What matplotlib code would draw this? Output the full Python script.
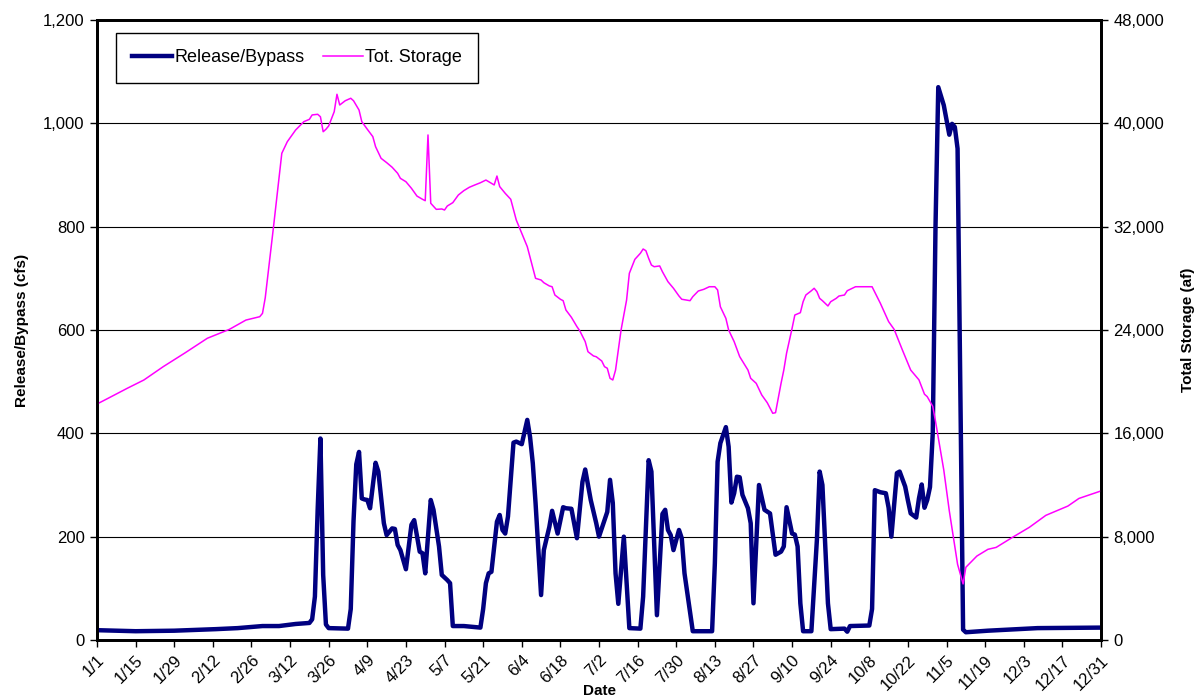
import matplotlib
matplotlib.use("Agg")
import matplotlib.pyplot as plt
from matplotlib.ticker import FuncFormatter

plt.rcParams['font.family'] = ['Liberation Sans', 'DejaVu Sans']

# day of year (0 = 1/1) and release/bypass in cfs
rel_day = [0, 14, 28, 43, 51, 60, 66, 72, 77, 78, 79, 80, 81, 82, 83, 84, 91, 92, 93, 94, 95,
           96, 97, 98, 99, 101, 102, 104, 105, 107, 108, 109, 110, 112, 114, 115, 117, 118, 119,
           121, 122, 124, 125, 127, 128, 129, 133, 137, 139, 140, 141, 142, 143, 145, 146, 147,
           148, 149, 151, 152, 154, 156, 157, 158, 159, 161, 162, 164, 165, 167, 169, 170, 172,
           174, 176, 177, 179, 181, 182, 184, 185, 186, 187, 188, 189, 191, 193, 197, 198, 200,
           201, 203, 205, 206, 207, 208, 209, 211, 212, 213, 216, 223, 224, 225, 226, 228, 229,
           230, 231, 232, 233, 234, 236, 237, 238, 240, 242, 244, 246, 248, 249, 250, 252, 253,
           254, 255, 256, 259, 261, 262, 263, 265, 266, 271, 272, 273, 280, 281, 282, 284, 286,
           287, 288, 290, 291, 293, 294, 295, 297, 298, 299, 300, 301, 302, 303, 304, 305, 307,
           308, 309, 310, 311, 312, 313, 314, 315, 323, 341, 364]
rel_cfs = [19, 17, 18, 21, 23, 27, 27, 31, 33, 40, 84, 252, 390, 126, 30, 23, 22, 60, 230, 340, 364,
           274, 272, 271, 255, 343, 326, 226, 203, 216, 215, 184, 174, 137, 223, 232, 171, 168, 129,
           271, 252, 181, 126, 116, 110, 27, 27, 25, 24, 60, 110, 129, 132, 229, 242, 213,
           206, 239, 382, 384, 379, 426, 393, 342, 265, 87, 174, 219, 250, 206, 257, 255, 254,
           197, 306, 330, 271, 226, 200, 232, 248, 310, 265, 129, 70, 200, 23, 22, 84, 348,
           326, 48, 244, 252, 213, 203, 174, 213, 197, 129, 17, 17, 148, 345, 381, 412, 374,
           266, 284, 316, 315, 281, 255, 226, 71, 300, 252, 245, 165, 171, 181, 257, 206, 204,
           181, 71, 17, 17, 194, 326, 300, 71, 21, 22, 16, 27, 28, 60, 290, 286, 284,
           256, 200, 323, 326, 297, 270, 245, 237, 274, 301, 256, 271, 296, 400, 800, 1070, 1035,
           1006, 978, 999, 993, 951, 480, 20, 15, 18, 23, 24]

# day of year and total storage in af
sto_day = [0, 4, 11, 17, 24, 32, 40, 48, 54, 59, 60, 61, 64, 67, 69, 72, 75, 77, 78, 80, 81, 82,
           83, 84, 86, 87, 88, 90, 92, 93, 95, 96, 98, 100, 101, 103, 105, 107, 109, 110, 112,
           114, 116, 118, 119, 120, 121, 123, 125, 126, 127, 129, 131, 133, 135, 137, 139, 141,
           142, 144, 145, 146, 148, 150, 152, 156, 159, 161, 162, 164, 165, 166, 168, 169, 170,
           172, 174, 175, 177, 178, 180, 181, 183, 184, 185, 186, 187, 188, 190, 192, 193, 195,
           197, 198, 199, 200, 201, 202, 204, 205, 207, 209, 211, 212, 215, 216, 218, 220, 222,
           224, 225, 226, 228, 229, 231, 233, 236, 237, 239, 241, 243, 245, 246, 248, 249, 250,
           252, 253, 255, 256, 257, 259, 260, 261, 262, 263, 265, 266, 268, 269, 271, 272, 275,
           281, 284, 287, 289, 292, 295, 298, 300, 301, 303, 304, 307, 309, 312, 314, 315, 319,
           323, 326, 332, 338, 344, 352, 356, 364]
sto_af = [18270, 18710, 19490, 20130, 21160, 22240, 23360, 24050, 24770, 25030, 25290, 26500,
          32000, 37680, 38580, 39480, 40130, 40310, 40650, 40700, 40510, 39350, 39540, 39800,
          40900, 42250, 41420, 41750, 41940, 41750, 41030, 40130, 39540, 38970, 38190, 37290,
          36960, 36600, 36130, 35740, 35480, 34970, 34370, 34120, 34010, 39100, 33810, 33340,
          33370, 33290, 33600, 33860, 34450, 34790, 35050, 35230, 35400, 35610, 35480, 35230,
          35920, 35100, 34580, 34120, 32520, 30450, 28000, 27870, 27660, 27410, 27350, 26710,
          26380, 26270, 25550, 24980, 24260, 23950, 23100, 22320, 21990, 21930, 21600, 21160,
          21040, 20260, 20130, 20900, 24000, 26320, 28390, 29470, 29940, 30270, 30140, 29550,
          29030, 28900, 28960, 28510, 27740, 27230, 26630, 26380, 26270, 26580, 27020, 27150,
          27350, 27350, 27100, 25800, 24900, 24000, 23100, 21940, 20900, 20260, 19870, 18970,
          18370, 17550, 17600, 19870, 20900, 22200, 24130, 25160, 25340, 26190, 26710, 27040,
          27230, 26970, 26450, 26270, 25860, 26190, 26450, 26630, 26710, 27040, 27350, 27350,
          26070, 24650, 24050, 22450, 20900, 20140, 19030, 18840, 18090, 16930, 13160, 10000,
          5860, 4340, 5630, 6500, 7020, 7170, 7960, 8720, 9650, 10370, 10960, 11540]

tick_days = list(range(0, 365, 14))
tick_labels = ['1/1', '1/15', '1/29', '2/12', '2/26', '3/12', '3/26', '4/9', '4/23', '5/7',
               '5/21', '6/4', '6/18', '7/2', '7/16', '7/30', '8/13', '8/27', '9/10', '9/24',
               '10/8', '10/22', '11/5', '11/19', '12/3', '12/17', '12/31']

fig = plt.figure(figsize=(11.98, 6.98), dpi=100)
ax = fig.add_axes([97 / 1198, 1 - 640 / 698, 1004 / 1198, 620 / 698])
ax2 = ax.twinx()

l1, = ax.plot(rel_day, rel_cfs, color='#000080', lw=3.2, label='Release/Bypass',
              solid_joinstyle='round', zorder=3)
l2, = ax2.plot(sto_day, sto_af, color='#FF00FF', lw=1.1, label='Tot. Storage')

ax.set_xlim(0, 364)
ax.set_ylim(0, 1200)
ax.set_yticks(range(0, 1201, 200))
ax2.set_ylim(0, 48000)
ax2.set_yticks(range(0, 48001, 8000))
comma = FuncFormatter(lambda v, p: f'{int(v):,}')
ax.yaxis.set_major_formatter(comma)
ax2.yaxis.set_major_formatter(comma)

ax.set_xticks(tick_days)
ax.set_xticklabels(tick_labels, rotation=45, ha='right', rotation_mode='anchor')
ax.yaxis.grid(True, color='black', lw=0.8)
ax.set_axisbelow(True)

for a in (ax, ax2):
    for s in a.spines.values():
        s.set_linewidth(2)
    a.tick_params(labelsize=12, length=5, width=1, direction='out', pad=4)

ax.set_xlabel('Date', fontsize=11, fontweight='bold', labelpad=-6)
ax.set_ylabel('Release/Bypass (cfs)', fontsize=11, fontweight='bold', labelpad=10)
ax2.set_ylabel('Total Storage (af)', fontsize=11, fontweight='bold', labelpad=12)

leg = ax2.legend(handles=[l1, l2], loc='upper left', bbox_to_anchor=(0.019, 0.979), ncol=2,
                 fancybox=False, edgecolor='black', framealpha=1, fontsize=13,
                 handlelength=2.2, columnspacing=1.0, borderpad=0.9, handletextpad=0.15,
                 borderaxespad=0)
leg.get_frame().set_linewidth(1)

fig.savefig('out.png', dpi=100)
